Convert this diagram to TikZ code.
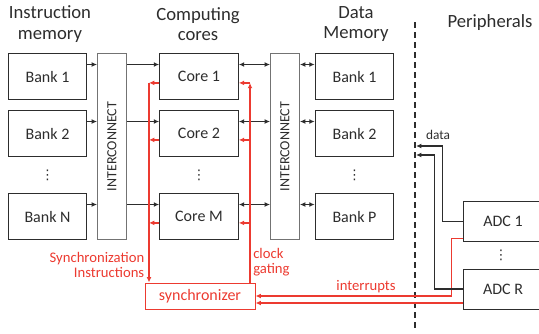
\documentclass[tikz,border=0pt]{standalone}
\usepackage{fontspec}
\setmainfont{Carlito}
\newfontfamily\symfont{DejaVu Sans}
\usetikzlibrary{arrows.meta}
\definecolor{sred}{RGB}{236,58,48}
\definecolor{dgray}{RGB}{45,45,45}
\begin{document}
\begin{tikzpicture}[x=0.75pt,y=-0.75pt,>={Latex[length=4pt,width=3.6pt]},
 hd/.style={align=center,font=\fontsize{14}{15.5}\selectfont,text=dgray},
 bank/.style={draw=dgray,line width=0.75pt,minimum width=59pt,minimum height=34pt,inner sep=0pt,font=\fontsize{12}{14}\selectfont,text=dgray},
 adc/.style={bank,minimum height=30pt},
 ic/.style={draw=black!55,line width=0.9pt,minimum width=21.5pt,minimum height=139pt,inner sep=0pt,font=\fontsize{10.5}{12}\selectfont,text=dgray},
 dots/.style={text=dgray,inner sep=0pt,font=\symfont\fontsize{10}{12}\selectfont},
 bus/.style={draw=dgray,line width=0.9pt},
 sig/.style={draw=sred,line width=0.9pt},
 rlab/.style={text=sred,font=\fontsize{11}{11.5}\selectfont,inner sep=0pt}]
\useasboundingbox (0,0) rectangle (539,333);

% column headings
\node[hd] (h1) at (50,24) {Instruction\\memory};
\node[hd] (h2) at (198,24) {Computing\\cores};
\node[hd] (h3) at (356,24) {Data\\Memory};
\node[hd] (h4) at (490,23) {Peripherals};

% instruction memory banks
\node[bank] (b1) at (47.5,76.5) {Bank 1};
\node[bank] (b2) at (47.5,133.5) {Bank 2};
\node[dots] (bd) at (47.5,175) {⋮};
\node[bank] (bN) at (47.5,216.5) {Bank N};

% interconnects
\node[ic] (icA) at (112,146.5) {\rotatebox{90}{INTERCONNECT}};
\node[ic] (icB) at (285,146.5) {\rotatebox{90}{INTERCONNECT}};

% cores
\node[bank] (c1) at (199,76.5) {Core 1};
\node[bank] (c2) at (199,133.5) {Core 2};
\node[dots] (cd) at (199,175) {⋮};
\node[bank] (cM) at (199,216.5) {Core M};

% data memory banks
\node[bank] (d1) at (354.5,76.5) {Bank 1};
\node[bank] (d2) at (354.5,133.5) {Bank 2};
\node[dots] (dd) at (354.5,175) {⋮};
\node[bank] (dP) at (354.5,216.5) {Bank P};

% peripherals
\node[adc] (adc1) at (503,221.5) {ADC 1};
\node[dots] (ad) at (501,255) {⋮};
\node[adc] (adcR) at (503,289) {ADC R};

\node[draw=sred,line width=0.75pt,minimum width=82.5pt,minimum height=19.5pt,inner sep=0pt,text=sred,font=\fontsize{12}{14}\selectfont] (sync) at (200,296) {synchronizer};

% boundary to the peripherals
\coordinate (dtop) at (415,22);
\coordinate (dbot) at (415,330);
\draw[dgray,line width=1pt,dash pattern=on 4.5pt off 3pt] (dtop) -- (dbot);

% instruction fetch
\draw[bus,->] ([yshift=9pt]b1.east) -- ([yshift=9pt]b1.east -| icA.west);
\draw[bus,->] ([yshift=9pt]b2.east) -- ([yshift=9pt]b2.east -| icA.west);
\draw[bus,->] ([yshift=9pt]bN.east) -- ([yshift=9pt]bN.east -| icA.west);
\draw[bus,->] ([yshift=9pt]c1.west -| icA.east) -- ([yshift=9pt]c1.west);
\draw[bus,->] ([yshift=9pt]c2.west -| icA.east) -- ([yshift=9pt]c2.west);
\draw[bus,->] ([yshift=9pt]cM.west -| icA.east) -- ([yshift=9pt]cM.west);

% data accesses
\draw[bus,<->] ([yshift=9pt]c1.east) -- ([yshift=9pt]c1.east -| icB.west);
\draw[bus,<->] ([yshift=9pt]c2.east) -- ([yshift=9pt]c2.east -| icB.west);
\draw[bus,<->] ([yshift=9pt]cM.east) -- ([yshift=9pt]cM.east -| icB.west);
\draw[bus,<->] ([yshift=9pt]d1.west -| icB.east) -- ([yshift=9pt]d1.west);
\draw[bus,<->] ([yshift=9pt]d2.west -| icB.east) -- ([yshift=9pt]d2.west);
\draw[bus,<->] ([yshift=9pt]dP.west -| icB.east) -- ([yshift=9pt]dP.west);

% synchronization lines
\coordinate (sl) at (149,296);
\coordinate (sr) at (250,296);
\draw[sig,->] ([yshift=-4.8pt]c1.west) -- ([yshift=-4.8pt]c1.west -| sl);
\draw[sig,->] ([yshift=-4.8pt]c2.west) -- ([yshift=-4.8pt]c2.west -| sl);
\draw[sig,->] ([yshift=-4.8pt]cM.west) -- ([yshift=-4.8pt]cM.west -| sl);
\draw[sig,->] ([yshift=-4.8pt]c1.west -| sl) -- (sl |- sync.north);
\draw[sig,->] (sr |- sync.north) -- ([yshift=-4.8pt]c1.east -| sr);
\draw[sig,->] ([yshift=-4.8pt]c1.east -| sr) -- ([yshift=-4.8pt]c1.east);
\draw[sig,->] ([yshift=-4.8pt]c2.east -| sr) -- ([yshift=-4.8pt]c2.east);
\draw[sig,->] ([yshift=-4.8pt]cM.east -| sr) -- ([yshift=-4.8pt]cM.east);
\node[rlab,align=right,anchor=east] (syl) at (144.5,265) {Synchronization\\Instructions};
\node[rlab,align=left,anchor=west] (cgl) at (253,262) {clock\\gating};

% interrupts
\draw[sig,->] ([yshift=-13pt]adc1.west) -| ([xshift=-9pt]adc1.west |- sync.east) -- (sync.east);
\draw[sig,->] ([yshift=-10.5pt]adcR.west) -- ([yshift=-10.5pt]adcR.west -| sync.east);
\node[rlab] (irq) at (366,287) {interrupts};

% peripheral data
\coordinate (dat1) at (416,146);
\coordinate (dat2) at (416,155);
\draw[bus,->] (adc1.west) -| ([xshift=-15.75pt]adc1.west |- dat1) -- (dat1);
\draw[bus,->] (adcR.west) -| ([xshift=-21.75pt]adcR.west |- dat2) -- (dat2);
\node[text=dgray,font=\fontsize{10}{12}\selectfont] (dl) at (438,135) {data};
\end{tikzpicture}
\end{document}
